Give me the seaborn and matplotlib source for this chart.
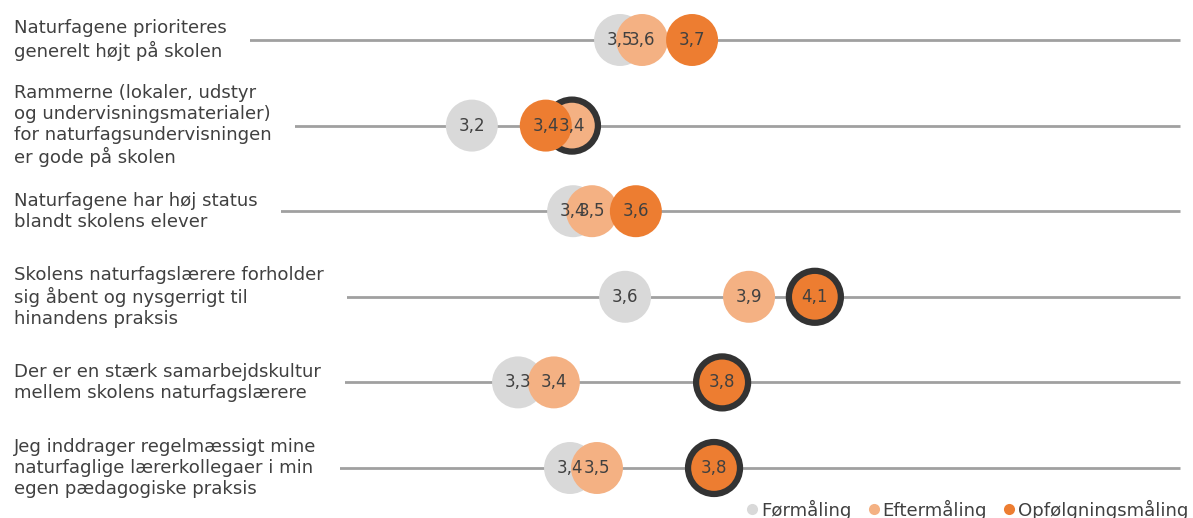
import matplotlib
matplotlib.use("Agg")
import matplotlib.pyplot as plt
from matplotlib.lines import Line2D
import seaborn as sns
import pandas as pd

# statements (rows, top to bottom)
statements = [
    "Naturfagene prioriteres\ngenerelt højt på skolen",
    "Rammerne (lokaler, udstyr\nog undervisningsmaterialer)\nfor naturfagsundervisningen\ner gode på skolen",
    "Naturfagene har høj status\nblandt skolens elever",
    "Skolens naturfagslærere forholder\nsig åbent og nysgerrigt til\nhinandens praksis",
    "Der er en stærk samarbejdskultur\nmellem skolens naturfagslærere",
    "Jeg inddrager regelmæssigt mine\nnaturfaglige lærerkollegaer i min\negen pædagogiske praksis",
]

series = ["Førmåling", "Eftermåling", "Opfølgningsmåling"]

# mean scores
foer = [3.545, 3.16, 3.423, 3.558, 3.28, 3.415]
efter = [3.602, 3.42, 3.472, 3.88, 3.373, 3.485]
opf = [3.732, 3.352, 3.586, 4.051, 3.81, 3.789]

# significant changes (dark ring)
sig_efter = [False, True, False, False, False, False]
sig_opf = [False, False, False, True, True, True]

colors = {"Førmåling": "#d9d9d9", "Eftermåling": "#f4b183", "Opfølgningsmåling": "#ed7d31"}

rows = []
for i, s in enumerate(statements):
    rows.append({"row": i, "serie": "Førmåling", "value": foer[i], "sig": False})
    rows.append({"row": i, "serie": "Eftermåling", "value": efter[i], "sig": sig_efter[i]})
    rows.append({"row": i, "serie": "Opfølgningsmåling", "value": opf[i], "sig": sig_opf[i]})
df = pd.DataFrame(rows)

sns.set_style("white")
plt.rcParams['font.family'] = ['DejaVu Sans']

fig = plt.figure(figsize=(11.93, 5.18), dpi=100)
ax = fig.add_axes([0, 0, 1, 1])

# axis scale: x pixel = 622 + (v - 3.55) * 385
x_lo = 3.55 - 622 / 385
x_hi = 3.55 + (1193 - 622) / 385
ax.set_xlim(x_lo, x_hi)
ax.set_ylim(478 / 85.6, -40 / 85.6)

# lines start where the labels start, labels cover them with a white box
ax.hlines(range(len(statements)), 3.55 - (622 - 20) / 385, 5.0, color="#a0a0a0", lw=2, zorder=1)

edge = ["#333333" if s else "none" for s in df["sig"]]
lw = [4.5 if s else 0 for s in df["sig"]]
sns.scatterplot(data=df, x="value", y="row", hue="serie", palette=colors,
                s=1400, edgecolor=edge, linewidths=lw, legend=False, ax=ax, zorder=2)

for _, r in df.iterrows():
    ax.text(r["value"], r["row"], f"{r['value']:.1f}".replace(".", ","),
            ha="center", va="center", fontsize=12, color="#404040", zorder=3)

for i, s in enumerate(statements):
    ax.text(14 / 1193, i, s, transform=ax.get_yaxis_transform(), ha="left", va="center",
            fontsize=13.1, color="#404040", linespacing=1.2, zorder=4,
            bbox=dict(boxstyle="square,pad=1.3", facecolor="white", edgecolor="none"))

ax.axis("off")

handles = [Line2D([0], [0], marker="o", color="none", markerfacecolor=colors[s],
                  markeredgecolor="none", markersize=8) for s in series]
fig.legend(handles, series, loc="center right", bbox_to_anchor=(1.01, 0.016), ncol=3,
           frameon=False, fontsize=13.1, handletextpad=0.1, columnspacing=0.8,
           handlelength=0.8, labelcolor="#404040")

fig.savefig("out.png", dpi=100)
